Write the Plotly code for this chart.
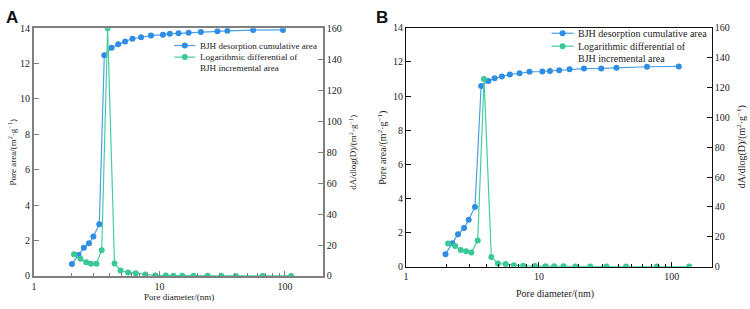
import plotly.graph_objects as go

# ---------------- data ----------------
# Panel A
a_cum_d = [2.01, 2.27, 2.50, 2.75, 2.98, 3.32, 3.64, 4.16, 4.70, 5.33, 6.10, 7.14, 8.57,
           10.66, 12.1, 14.2, 17.1, 21.4, 29.0, 34.8, 55.8, 96.4]
a_cum_area = [0.68, 1.18, 1.60, 1.85, 2.23, 2.92, 12.47, 12.89, 13.09, 13.25, 13.40, 13.49,
              13.58, 13.63, 13.69, 13.71, 13.74, 13.78, 13.82, 13.85, 13.89, 13.90]
a_diff_d = [2.09, 2.35, 2.61, 2.85, 3.15, 3.47, 3.87, 4.39, 4.90, 5.63, 6.47, 7.72, 9.31,
            11.25, 12.9, 15.2, 18.7, 24.2, 31.2, 40.7, 66.2, 112.0]
a_diff = [14.1, 11.2, 8.9, 7.9, 7.9, 16.6, 160.0, 8.1, 3.5, 2.3, 1.7, 1.0, 0.4,
          0.3, 0.2, 0.2, 0.1, 0.1, 0.05, 0.05, 0.03, 0.02]

# Panel B
b_cum_d = [1.98, 2.23, 2.46, 2.73, 2.96, 3.30, 3.67, 4.16, 4.64, 5.26, 6.04, 7.14, 8.49,
           10.6, 12.1, 14.2, 17.0, 21.8, 29.4, 38.3, 65.0, 112.8]
b_cum_area = [0.73, 1.37, 1.90, 2.26, 2.75, 3.50, 10.59, 10.89, 11.04, 11.15, 11.27, 11.34,
              11.42, 11.44, 11.47, 11.51, 11.57, 11.61, 11.62, 11.66, 11.72, 11.74]
b_diff_d = [2.07, 2.34, 2.58, 2.83, 3.10, 3.46, 3.86, 4.38, 4.91, 5.61, 6.47, 7.60, 9.31,
            11.2, 13.0, 15.3, 18.8, 24.3, 32.2, 45.2, 77.2, 135.0]
b_diff = [15.5, 13.8, 11.2, 10.3, 9.4, 17.6, 125.8, 6.5, 2.1, 1.7, 1.0, 0.6, 0.4,
          0.3, 0.2, 0.2, 0.15, 0.1, 0.1, 0.05, 0.03, 0.02]

name_cum = "BJH desorption cumulative area"
name_diff_1 = "Logarithmic differential of"
name_diff_2 = "BJH incremental area"
x_ticks = [1, 10, 100]
x_tick_text = ["1", "10", "100"]
left_ticks = [0, 2, 4, 6, 8, 10, 12, 14]
right_ticks = [0, 20, 40, 60, 80, 100, 120, 140, 160]

BLUE = "#2f8ee3"
BLUE_LINE = "#4a9fea"
GREEN = "#38c995"
GREEN_LINE = "#45cf9d"
FONT = '"Liberation Serif", "Times New Roman", serif'
TXT = "#222"

fig = go.Figure()

def add_series(xs, ys, xa, ya, name, mcol, lcol):
    fig.add_trace(go.Scatter(
        x=xs, y=ys, xaxis=xa, yaxis=ya, name=name, mode="lines+markers",
        line=dict(color=lcol, width=1.2),
        marker=dict(color=mcol, size=6), showlegend=False))

add_series(a_cum_d, a_cum_area, "x", "y", name_cum, BLUE, BLUE_LINE)
add_series(a_diff_d, a_diff, "x", "y2", name_diff_1, GREEN, GREEN_LINE)
add_series(b_cum_d, b_cum_area, "x2", "y3", name_cum, BLUE, BLUE_LINE)
add_series(b_diff_d, b_diff, "x2", "y4", name_diff_1, GREEN, GREEN_LINE)

W, H = 750, 309
def px(x):
    return x / W
def py(y):
    return 1 - y / H

domA_x = [px(31), px(321)]
domA_y = [py(281), py(24)]
domB_x = [px(404.7), px(711.7)]
domB_y = [py(271.3), py(23.7)]

def xaxis(dom, anchor, col, lw, fs):
    return dict(domain=dom, anchor=anchor, type="log", range=[0, 2.301],
                tickvals=x_ticks, ticktext=x_tick_text, ticks="inside", ticklen=5,
                tickcolor=col, tickwidth=1, showline=True, linecolor=col, linewidth=lw,
                mirror=True, showgrid=False, zeroline=False,
                tickfont=dict(family=FONT, size=fs, color=TXT),
                minor=dict(ticks="inside", ticklen=3, tickcolor=col, dtick="D1", showgrid=False))

def yaxis(dom, anchor, rng, tv, col, lw, fs, side="left", overlay=None):
    d = dict(domain=dom, anchor=anchor, range=rng, tickvals=tv, ticks="inside", ticklen=5,
             tickcolor=col, tickwidth=1, showline=True, linecolor=col, linewidth=lw,
             showgrid=False, zeroline=False, side=side,
             tickfont=dict(family=FONT, size=fs, color=TXT))
    if overlay:
        d["overlaying"] = overlay
    return d

GREY = "#7f7f7f"
fig.update_layout(
    width=W, height=H, margin=dict(l=0, r=0, t=0, b=0),
    paper_bgcolor="white", plot_bgcolor="white",
    font=dict(family=FONT, color=TXT),
    showlegend=False,
    xaxis=xaxis(domA_x, "y", GREY, 2, 10),
    yaxis=yaxis(domA_y, "x", [0, 14], left_ticks, GREY, 2, 10),
    yaxis2=yaxis(domA_y, "x", [0, 160], right_ticks, GREY, 2, 10, side="right", overlay="y"),
    xaxis2=xaxis(domB_x, "y3", "#111", 1, 10),
    yaxis3=yaxis(domB_y, "x2", [0, 14], left_ticks, "#111", 1, 10),
    yaxis4=yaxis(domB_y, "x2", [0, 160], right_ticks, "#111", 1, 10, side="right", overlay="y3"),
)

ann = [
    dict(text="<b>A</b>", x=px(1), y=py(1), xanchor="left", yanchor="top",
         font=dict(family="Liberation Sans", size=17, color="#111")),
    dict(text="<b>B</b>", x=px(372), y=py(1), xanchor="left", yanchor="top",
         font=dict(family="Liberation Sans", size=17, color="#111")),
    dict(text="Pore area/(m<sup>2</sup>·g<sup>−1</sup>)", x=px(9.5), y=py(152.5), textangle=-90,
         font=dict(family=FONT, size=9, color=TXT)),
    dict(text="dA/dlog(D)/(m<sup>2</sup>·g<sup>−1</sup>)", x=px(351), y=py(152.5), textangle=-90,
         font=dict(family=FONT, size=9, color=TXT)),
    dict(text="Pore diameter/(nm)", x=px(177), y=py(302.5),
         font=dict(family=FONT, size=9, color=TXT)),
    dict(text="Pore area/(m<sup>2</sup>·g<sup>−1</sup>)", x=px(381), y=py(147.5), textangle=-90,
         font=dict(family=FONT, size=10, color=TXT)),
    dict(text="dA/dlog(D)/(m<sup>2</sup>·g<sup>−1</sup>)", x=px(741), y=py(147.5), textangle=-90,
         font=dict(family=FONT, size=10, color=TXT)),
    dict(text="Pore diameter/(nm)", x=px(554), y=py(299.5),
         font=dict(family=FONT, size=10, color=TXT)),
]

shapes = []
def legend_block(x_line0, x_line1, x_text, y1, y2, y3, fs):
    for (yy, lc, mc) in [(y1, BLUE_LINE, BLUE), (y2, GREEN_LINE, GREEN)]:
        shapes.append(dict(type="line", xref="paper", yref="paper",
                           x0=px(x_line0), x1=px(x_line1), y0=py(yy), y1=py(yy),
                           line=dict(color=lc, width=1.2)))
        shapes.append(dict(type="circle", xref="paper", yref="paper",
                           xsizemode="pixel", ysizemode="pixel",
                           xanchor=px((x_line0 + x_line1) / 2), yanchor=py(yy),
                           x0=-3, x1=3, y0=-3, y1=3,
                           fillcolor=mc, line=dict(color=mc, width=0)))
    for (txt, yy) in [(name_cum, y1), (name_diff_1, y2), (name_diff_2, y3)]:
        ann.append(dict(text=txt, x=px(x_text), y=py(yy), xanchor="left", yanchor="middle",
                        font=dict(family=FONT, size=fs, color=TXT)))

legend_block(172, 193, 195.5, 42, 54, 65.5, 9.1)
legend_block(550.7, 573, 575.5, 29.3, 42.7, 55.7, 10)

for a in ann:
    a.update(xref="paper", yref="paper", showarrow=False)
    a.setdefault("xanchor", "center")
    a.setdefault("yanchor", "middle")
fig.update_layout(annotations=ann, shapes=shapes)

fig.write_html("out.html")
